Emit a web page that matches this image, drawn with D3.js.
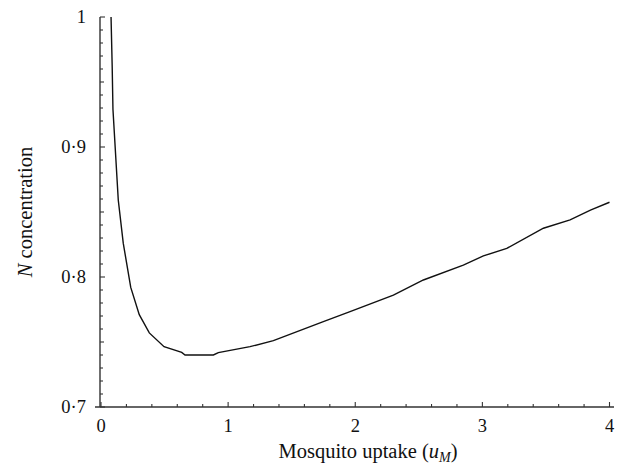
<!DOCTYPE html>
<html><head><meta charset="utf-8">
<script src="https://cdn.jsdelivr.net/npm/d3@7"></script>
<style>body{margin:0;background:#fff}svg{display:block}text{font-family:"Liberation Serif","DejaVu Serif",serif;fill:#111}</style>
</head><body>
<svg id="c" width="626" height="467"></svg>
<script>
const uptake = [0.079,0.088,0.094,0.136,0.175,0.234,0.301,0.38,0.496,0.635,0.661,0.884,0.923,1.172,1.356,1.749,1.959,2.3,2.536,2.85,3.008,3.192,3.48,3.69,3.85,4.0];
const concentration = [1.0,0.962,0.929,0.859,0.826,0.792,0.771,0.757,0.7464,0.742,0.740,0.740,0.7418,0.7464,0.751,0.7656,0.7733,0.786,0.7977,0.8092,0.8162,0.822,0.8375,0.844,0.8515,0.8575];
const xTicks = [0,1,2,3,4];
const yTicks = [0.7,0.8,0.9,1.0];
const yTickLabels = ["0·7","0·8","0·9","1"];

const svg = d3.select("#c");
const x = d3.scaleLinear().domain([0,4]).range([101,609.5]);
const y = d3.scaleLinear().domain([0.7,1.0]).range([407,17]);
const axisCol = "#333";

// axis lines
svg.append("line").attr("x1",95).attr("x2",614).attr("y1",y(0.7)).attr("y2",y(0.7)).attr("stroke",axisCol).attr("stroke-width",1.4);
svg.append("line").attr("x1",x(0)-1).attr("x2",x(0)-1).attr("y1",y(1.0)).attr("y2",y(0.7)).attr("stroke",axisCol).attr("stroke-width",1.4);

// x ticks
const xMinor = d3.range(0,4.0001,0.2);
svg.append("g").selectAll("line").data(xMinor).join("line")
  .attr("x1",d=>x(d)).attr("x2",d=>x(d))
  .attr("y1",y(0.7)).attr("y2",d=>y(0.7)-(Math.abs(d-Math.round(d))<1e-6?5:3))
  .attr("stroke",axisCol).attr("stroke-width",1.1);
svg.append("g").selectAll("text").data(xTicks).join("text")
  .attr("x",d=>x(d)).attr("y",432).attr("text-anchor","middle").attr("font-size",18.5).text(d=>d);

// y ticks
const yMinor = d3.range(0.7,1.00001,0.01);
svg.append("g").selectAll("line").data(yMinor).join("line")
  .attr("x1",x(0)-1).attr("x2",d=>{const k=Math.round(d*100);return x(0)-1+(k%10===0?5:(k%5===0?4:3));})
  .attr("y1",d=>y(d)).attr("y2",d=>y(d))
  .attr("stroke",axisCol).attr("stroke-width",1.1);
svg.append("g").selectAll("text").data(yTicks).join("text")
  .attr("x",86).attr("y",d=>y(d)+6).attr("text-anchor","end").attr("font-size",18.5)
  .text((d,i)=>yTickLabels[i]);

// axis titles
const xt = svg.append("text").attr("x",368).attr("y",458).attr("text-anchor","middle").attr("font-size",20.5);
xt.append("tspan").text("Mosquito uptake (");
xt.append("tspan").attr("font-style","italic").text("u");
xt.append("tspan").attr("font-style","italic").attr("font-size",14).attr("dy",4).text("M");
xt.append("tspan").attr("dy",-4).text(")");

const yt = svg.append("text").attr("transform","translate(32,212) rotate(-90)").attr("text-anchor","middle").attr("font-size",20.5);
yt.append("tspan").attr("font-style","italic").text("N");
yt.append("tspan").text(" concentration");

// curve
const pts = uptake.map((u,i)=>[u,concentration[i]]);
svg.append("path").datum(pts)
  .attr("d",d3.line().x(d=>x(d[0])).y(d=>y(d[1])))
  .attr("fill","none").attr("stroke","#111").attr("stroke-width",1.4);
</script>
</body></html>
